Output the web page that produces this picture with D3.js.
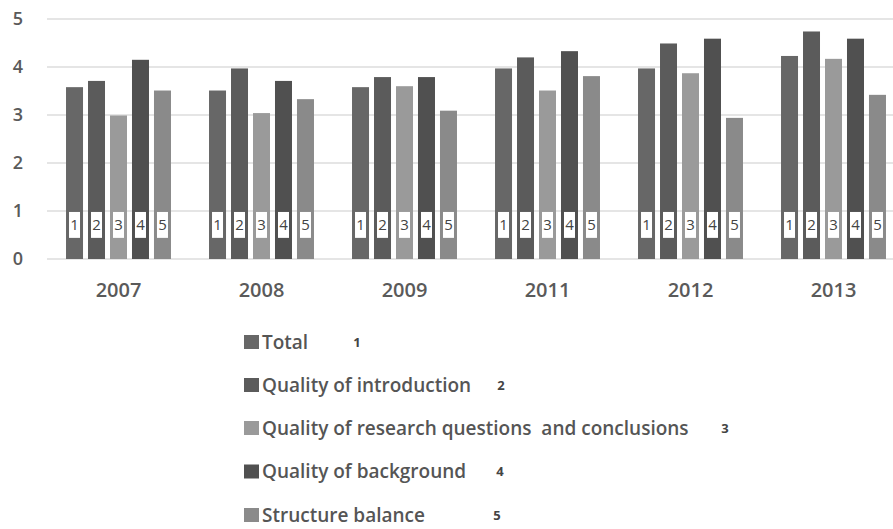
<!DOCTYPE html>
<html>
<head>
<meta charset="utf-8">
<script src="https://cdn.jsdelivr.net/npm/d3@7"></script>
<style>
  body { margin: 0; background: #fff; }
  text { font-family: "Open Sans", sans-serif; }
</style>
</head>
<body>
<svg id="grafico"></svg>
<script>
// dados
var anos = ['2007', '2008', '2009', '2011', '2012', '2013'];
var series = ['Total', 'Quality of introduction', 'Quality of research questions  and conclusions', 'Quality of background', 'Structure balance'];
var rotulos = ['1', '2', '3', '4', '5'];
var total       = [3.58, 3.51, 3.58, 3.97, 3.97, 4.23];
var introducao  = [3.71, 3.97, 3.79, 4.20, 4.49, 4.74];
var pesquisa    = [2.99, 3.04, 3.60, 3.51, 3.87, 4.17];
var fundamentos = [4.15, 3.71, 3.79, 4.33, 4.59, 4.59];
var estrutura   = [3.51, 3.33, 3.09, 3.81, 2.94, 3.42];
var ticksY = [0, 1, 2, 3, 4, 5];

var valores = [total, introducao, pesquisa, fundamentos, estrutura];
var cores = ['#676767', '#5b5b5b', '#9a9a9a', '#505050', '#8a8a8a'];

var largura = 893, altura = 529;
var svg = d3.select('#grafico')
            .attr('width', largura)
            .attr('height', altura);

var x = d3.scaleBand()
          .domain(anos)
          .range([47, 905])
          .paddingInner(0.266)
          .paddingOuter(0.133);
var x1 = d3.scaleBand()
           .domain(d3.range(series.length))
           .range([0, x.bandwidth()])
           .paddingInner(0.227);
var y = d3.scaleLinear()
          .domain([0, 5])
          .range([259, 19]);

// linhas de grade
svg.selectAll('.grade')
   .data(ticksY)
   .enter()
     .append('line')
     .classed('grade', true)
     .attr('x1', 47)
     .attr('x2', largura)
     .attr('y1', d => y(d))
     .attr('y2', d => y(d))
     .attr('stroke', '#dcdcdc')
     .attr('stroke-width', 1.5);

svg.selectAll('.ticky')
   .data(ticksY)
   .enter()
     .append('text')
     .classed('ticky', true)
     .attr('x', 23)
     .attr('y', d => y(d))
     .attr('dy', '0.36em')
     .style('text-anchor', 'end')
     .style('font-size', '18px')
     .style('font-weight', 600)
     .attr('fill', '#5a5a5a')
     .text(d => d);

var dados = [];
anos.forEach(function(ano, i) {
  valores.forEach(function(serie, s) {
    dados.push({ano: ano, s: s, valor: serie[i]});
  });
});

svg.selectAll('.barra')
   .data(dados)
   .enter()
     .append('rect')
     .classed('barra', true)
     .attr('x', d => x(d.ano) + x1(d.s))
     .attr('y', d => y(d.valor))
     .attr('width', x1.bandwidth())
     .attr('height', d => y(0) - y(d.valor))
     .attr('fill', d => cores[d.s]);

// caixinhas com numeros
svg.selectAll('.caixa')
   .data(dados)
   .enter()
     .append('rect')
     .classed('caixa', true)
     .attr('x', d => x(d.ano) + x1(d.s) + x1.bandwidth() / 2 - 5.5)
     .attr('y', y(0.98))
     .attr('width', 11)
     .attr('height', y(0.44) - y(0.98))
     .attr('fill', '#fff');

svg.selectAll('.numero')
   .data(dados)
   .enter()
     .append('text')
     .classed('numero', true)
     .attr('x', d => x(d.ano) + x1(d.s) + x1.bandwidth() / 2)
     .attr('y', y(0.71))
     .attr('dy', '0.36em')
     .style('text-anchor', 'middle')
     .style('font-size', '15px')
     .attr('fill', '#444')
     .text(d => rotulos[d.s]);

svg.selectAll('.ano')
   .data(anos)
   .enter()
     .append('text')
     .classed('ano', true)
     .attr('x', d => x(d) + x.bandwidth() / 2)
     .attr('y', 290)
     .attr('dy', '0.36em')
     .style('text-anchor', 'middle')
     .style('font-size', '20px')
     .style('font-weight', 600)
     .attr('fill', '#5a5a5a')
     .text(d => d);

// legenda
var legendaY = [342, 385, 428, 471.5, 515];
var numeroX = [357, 501, 725, 500, 497];
var legenda = svg.selectAll('.legenda')
   .data(series)
   .enter()
     .append('g')
     .classed('legenda', true)
     .attr('transform', (d, i) => 'translate(244,' + legendaY[i] + ')');

legenda.append('rect')
       .attr('x', 0)
       .attr('y', -7)
       .attr('width', 15)
       .attr('height', 14)
       .attr('fill', (d, i) => cores[i]);

legenda.append('text')
       .attr('x', 18)
       .attr('dy', '0.36em')
       .style('font-size', '19px')
       .style('font-weight', 600)
       .style('white-space', 'pre')
       .attr('fill', '#555')
       .text(d => d);

legenda.append('text')
       .attr('x', (d, i) => numeroX[i] - 244)
       .attr('dy', '0.36em')
       .style('text-anchor', 'middle')
       .style('font-size', '13px')
       .style('font-weight', 'bold')
       .attr('fill', '#444')
       .text((d, i) => rotulos[i]);
</script>
</body>
</html>
